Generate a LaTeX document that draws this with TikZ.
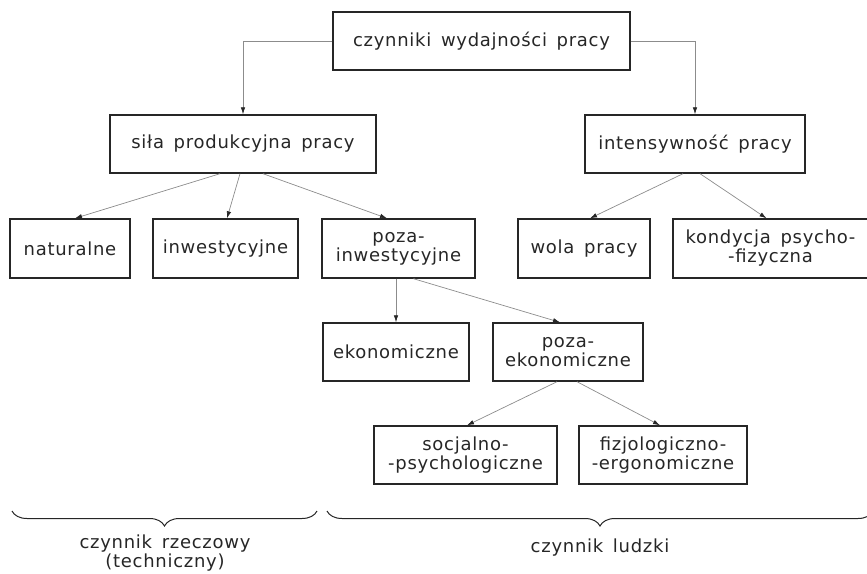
\documentclass[tikz,border=0pt]{standalone}
\usepackage{fontspec}
\setmainfont{DejaVu Sans}[LetterSpace=4,WordSpace=1.5]
\usetikzlibrary{arrows.meta,decorations.pathreplacing}
\definecolor{ink}{gray}{0.15}
\definecolor{lin}{gray}{0.55}
\tikzset{
  box/.style={draw=ink, line width=1.4pt, rectangle, inner sep=0pt, text=ink,
    align=center, font=\fontsize{18}{19}\selectfont},
  conn/.style={draw=lin, line width=0.7pt, -{Latex[length=7pt,width=4.5pt,color=ink]}},
  brc/.style={draw=ink, line width=1pt, decorate, decoration={brace,mirror,amplitude=15pt,aspect=0.5}},
  captext/.style={text=ink, align=center, font=\fontsize{18}{17}\selectfont}
}
\begin{document}
\begin{tikzpicture}[x=1pt,y=-1pt]
\useasboundingbox (0,0) rectangle (867,573);
% boxes
\node[box, minimum width=297pt, minimum height=58pt] (top) at (481.5,41) {czynniki wydajności pracy};
\node[box, minimum width=266pt, minimum height=58pt] (sila) at (243,144) {siła produkcyjna pracy};
\node[box, minimum width=220pt, minimum height=58pt] (inten) at (695,144) {intensywność pracy};
\node[box, minimum width=120pt, minimum height=59pt] (nat) at (70,248.5) {naturalne};
\node[box, minimum width=145pt, minimum height=59pt] (inw) at (225.5,248.5) {inwestycyjne};
\node[box, minimum width=153pt, minimum height=59pt] (pinw) at (398.5,248.5) {poza-\\inwestycyjne};
\node[box, minimum width=132pt, minimum height=59pt] (wola) at (584,248.5) {wola pracy};
\node[box, minimum width=195pt, minimum height=59pt] (kond) at (770.5,248.5) {kondycja psycho-\\-fizyczna};
\node[box, minimum width=146pt, minimum height=58pt] (ekon) at (396,352) {ekonomiczne};
\node[box, minimum width=150pt, minimum height=58pt] (pekon) at (568,352) {poza-\\ekonomiczne};
\node[box, minimum width=183pt, minimum height=58pt] (soc) at (465.5,455) {socjalno-\\-psychologiczne};
\node[box, minimum width=168pt, minimum height=58pt] (fiz) at (663,455) {fizjologiczno-\\-ergonomiczne};
% connectors
\draw[conn] (top.west) -| (sila.north);
\draw[conn] (top.east) -| (inten.north);
\draw[conn] ([xshift=-23pt]sila.south) -- ([xshift=5pt]nat.north);
\draw[conn] ([xshift=-3pt]sila.south) -- ([xshift=1.5pt]inw.north);
\draw[conn] ([xshift=20pt]sila.south) -- ([xshift=-11.5pt]pinw.north);
\draw[conn] ([xshift=-12pt]inten.south) -- ([xshift=6pt]wola.north);
\draw[conn] ([xshift=5pt]inten.south) -- ([xshift=-4pt]kond.north);
\draw[conn] (ekon.north |- pinw.south) -- (ekon.north);
\draw[conn] ([xshift=15pt]pinw.south) -- ([xshift=-8pt]pekon.north);
\draw[conn] ([xshift=-11pt]pekon.south) -- ([xshift=1.5pt]soc.north);
\draw[conn] ([xshift=9pt]pekon.south) -- ([xshift=-3pt]fiz.north);
% braces and captions
\coordinate (b1a) at (12,511);
\coordinate (b1b) at (317,511);
\coordinate (b2a) at (327,511);
\coordinate (b2b) at (873,511);
\draw[brc] (b1a) -- (b1b);
\draw[brc] (b2a) -- (b2b);
\node[captext] (c1) at (165,553) {czynnik rzeczowy\\(techniczny)};
\node[captext] (c2) at (600,548) {czynnik ludzki};
\end{tikzpicture}
\end{document}
